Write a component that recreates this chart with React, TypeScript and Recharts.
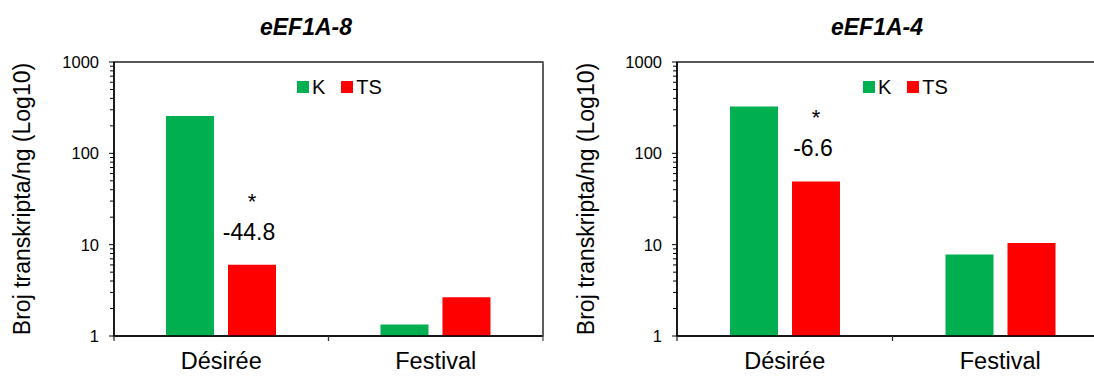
import { Bar, BarChart, Label, LabelList, Legend, ReferenceArea, XAxis, YAxis } from "recharts";

const cultivars = ["Désirée", "Festival"];
const seriesNames = ["K", "TS"];
const eef8Control = [257, 1.34];
const eef8Stress = [6.04, 2.66];
const eef8Fold = ["-44.8", ""];
const eef8Sig = ["*", ""];
const eef4Control = [325, 7.78];
const eef4Stress = [49.2, 10.4];
const eef4Fold = ["-6.6", ""];
const eef4Sig = ["*", ""];
const majorTicks = [1, 10, 100, 1000];
const minorSteps = [2, 3, 4, 5, 6, 7, 8, 9];
const yTitle = "Broj transkripta/ng (Log10)";

const FONT = "Arial, 'Liberation Sans', sans-serif";
const colors = { K: "#00B050", TS: "#FF0000", axis: "#000" };
const AXIS_W = 114;
const CHART_H = 376;

const allTicks = [
  ...majorTicks,
  ...majorTicks.slice(0, -1).flatMap((d) => minorSteps.map((s) => d * s)),
].sort((a, b) => a - b);

function YTick(props: any) {
  const { x, y, payload } = props;
  const v = payload.value;
  const major = majorTicks.includes(v);
  return (
    <g>
      <line x1={x} x2={x - (major ? 5 : 4)} y1={y} y2={y} stroke={colors.axis} strokeWidth={1} />
      {major && (
        <text x={x - 15} y={y} dy="0.36em" textAnchor="end" fontSize={16.5} fill="#000" fontFamily={FONT}>
          {v}
        </text>
      )}
    </g>
  );
}

function makeXTick(half: number) {
  return function XTick(props: any) {
    const { x, y, payload, index } = props;
    const last = index === cultivars.length - 1;
    return (
      <g>
        <line x1={x - half} x2={x - half} y1={y} y2={y + 5} stroke="#333" strokeWidth={1.3} />
        {last && <line x1={x + half} x2={x + half} y1={y - 272} y2={y + 5} stroke="#555" strokeWidth={1.3} />}
        <text x={x} y={y + 33} textAnchor="middle" fontSize={23.5} fill="#000" fontFamily={FONT}>
          {payload.value}
        </text>
      </g>
    );
  };
}

function LegendBox() {
  const item = (name: string, color: string, mr: number) => (
    <div key={name} style={{ display: "flex", alignItems: "center", marginRight: mr }}>
      <span style={{ width: 12, height: 12, background: color, display: "inline-block" }} />
      <span style={{ marginLeft: 3, fontSize: 20, lineHeight: "20px", fontFamily: FONT, color: "#000" }}>{name}</span>
    </div>
  );
  return (
    <div style={{ display: "flex", alignItems: "center" }}>
      {item(seriesNames[0], colors.K, 16)}
      {item(seriesNames[1], colors.TS, 0)}
    </div>
  );
}

type PanelProps = {
  title: string;
  control: number[];
  stress: number[];
  fold: string[];
  sig: string[];
  left: number;
  plotWidth: number;
  titleX: number;
  legendX: number;
  labelX: number;
};

function GenePanel({ title, control, stress, fold, sig, left, plotWidth, titleX, legendX, labelX }: PanelProps) {
  const data = cultivars.map((name, i) => ({ name, K: control[i], TS: stress[i], fold: fold[i] }));
  const width = AXIS_W + plotWidth + 8;
  const half = plotWidth / cultivars.length / 2;

  const foldLabel = (p: any) => {
    const { x, y, width: w, value, index } = p;
    if (!value) return null;
    const cx = x + w / 2 - 3;
    return (
      <g>
        <text x={cx + 3} y={y - 56} textAnchor="middle" fontSize={22} fill="#000" fontFamily={FONT}>
          {sig[index]}
        </text>
        <text x={cx} y={y - 25} textAnchor="middle" fontSize={23} fill="#000" fontFamily={FONT}>
          {value}
        </text>
      </g>
    );
  };

  const yLabel = (p: any) => {
    const vb = p.viewBox;
    const cx = vb.x + labelX;
    const cy = vb.y + vb.height / 2;
    return (
      <text x={cx} y={cy} transform={`rotate(-90, ${cx}, ${cy})`} textAnchor="middle" fontSize={23} fill="#000" fontFamily={FONT}>
        {yTitle}
      </text>
    );
  };

  return (
    <div style={{ position: "absolute", left, top: 0, width, height: CHART_H }}>
      <BarChart
        width={width}
        height={CHART_H}
        data={data}
        margin={{ top: 62, right: 8, bottom: 0, left: 0 }}
        barSize={48}
        barGap={14}
      >
        <XAxis
          dataKey="name"
          height={40}
          interval={0}
          tickSize={0}
          tickMargin={0}
          tickLine={false}
          axisLine={{ stroke: colors.axis, strokeWidth: 1.5 }}
          tick={makeXTick(half)}
        />
        <YAxis
          type="number"
          scale="log"
          domain={[1, 1000]}
          allowDataOverflow
          ticks={allTicks}
          interval={0}
          width={AXIS_W}
          tickSize={0}
          tickMargin={0}
          tickLine={false}
          axisLine={{ stroke: colors.axis, strokeWidth: 1.5 }}
          tick={YTick}
        >
          <Label content={yLabel} />
        </YAxis>
        <ReferenceArea y1={1} y2={1000} fill="none" stroke="#222" strokeWidth={1.3} ifOverflow="visible" />
        <Legend
          verticalAlign="middle"
          align="center"
          layout="horizontal"
          wrapperStyle={{ top: 77, left: legendX, width: "auto", height: "auto" }}
          content={() => <LegendBox />}
        />
        <Bar dataKey="K" fill={colors.K} isAnimationActive={false} />
        <Bar dataKey="TS" fill={colors.TS} isAnimationActive={false}>
          <LabelList dataKey="fold" content={foldLabel} />
        </Bar>
      </BarChart>
      <div
        style={{
          position: "absolute",
          left: titleX - 100,
          width: 200,
          top: 16,
          textAlign: "center",
          fontFamily: FONT,
          fontStyle: "italic",
          fontWeight: "bold",
          fontSize: 23,
          lineHeight: "23px",
          color: "#000",
        }}
      >
        {title}
      </div>
    </div>
  );
}

export default function App() {
  return (
    <div
      style={{
        position: "absolute",
        left: 0,
        top: 0,
        width: 1094,
        height: CHART_H,
        overflow: "hidden",
        background: "#fff",
      }}
    >
      <GenePanel
        title="eEF1A-8"
        control={eef8Control}
        stress={eef8Stress}
        fold={eef8Fold}
        sig={eef8Sig}
        left={0}
        plotWidth={429}
        titleX={306}
        legendX={297}
        labelX={30}
      />
      <GenePanel
        title="eEF1A-4"
        control={eef4Control}
        stress={eef4Stress}
        fold={eef4Fold}
        sig={eef4Sig}
        left={563}
        plotWidth={431}
        titleX={314}
        legendX={300}
        labelX={31}
      />
    </div>
  );
}
